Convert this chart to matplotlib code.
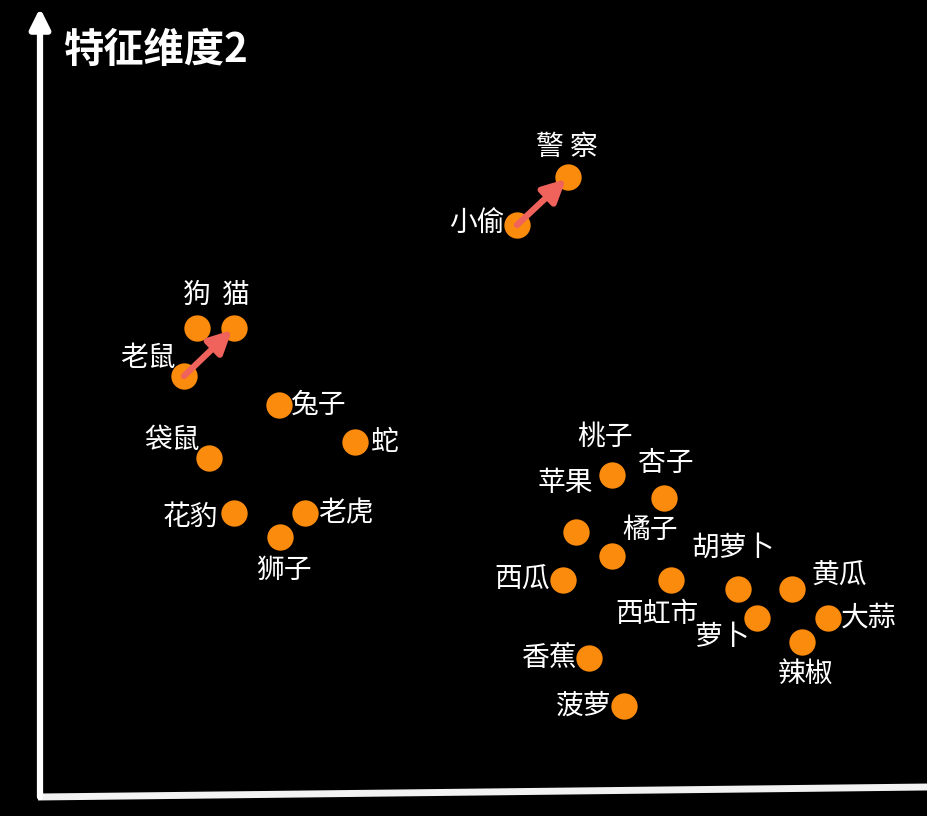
import matplotlib.pyplot as plt

plt.rcParams['font.family'] = ['Noto Sans CJK SC', 'DejaVu Sans']

# word embedding demo: (feature 1, feature 2)
names = ["狗", "猫", "老鼠", "兔子", "蛇", "袋鼠", "花豹", "老虎", "狮子",
         "小偷", "警 察",
         "桃子", "杏子", "苹果", "橘子", "西瓜", "西虹市", "胡萝卜", "黄瓜",
         "萝卜", "大蒜", "辣椒", "香蕉", "菠萝"]
feat1 = [197, 234, 184, 279, 355, 209, 234, 305, 280,
         517, 568,
         612, 664, 576, 612, 563, 671, 738, 792,
         757, 828, 802, 589, 624]
feat2 = [488, 488, 440, 411, 374, 358, 303, 303, 279,
         591, 639,
         341, 318, 284, 260, 236, 236, 227, 227,
         198, 198, 174, 158, 110]

# label offsets from each point
label_dx = [0, 1, -36, 39, 30, -37, -44, 41, 4,
            -40, -1,
            -7, 2, -11, 38, -41, -14, -5, 47,
            -35, 41, 4, -39, -40]
label_dy = [33, 33, 18, 0, 0, 18, -4, 0, -33,
            1, 30,
            38, 35, 49, 26, 0, -34, 41, 14,
            -19, 0, -32, 0, 0]

# analogy arrows: 老鼠 -> 猫, 小偷 -> 警察
pairs = [("老鼠", "猫"), ("小偷", "警 察")]

fig = plt.figure(figsize=(9.28, 8.16), dpi=100, facecolor="black")
ax = fig.add_axes([0, 0, 1, 1])
ax.set_facecolor("black")
ax.set_xlim(0, 928)
ax.set_ylim(0, 816)
ax.axis("off")

# axes drawn as arrows
ax.annotate("", xy=(40, 808), xytext=(40, 19),
            arrowprops=dict(arrowstyle="-|>", color="white", lw=4.5,
                            mutation_scale=30, shrinkA=0, shrinkB=0))
ax.plot([38, 928], [19, 29], color="#f2f2f2", lw=5, solid_capstyle="butt")

ax.scatter(feat1, feat2, s=360, color="#fb8b0c", zorder=2, linewidths=0)

for n, x, y, dx, dy in zip(names, feat1, feat2, label_dx, label_dy):
    ax.text(x + dx, y + dy, n, color="white", fontsize=20, fontweight="light",
            ha="center", va="center", zorder=4)

idx = {n: i for i, n in enumerate(names)}
for a, b in pairs:
    ia, ib = idx[a], idx[b]
    ax.annotate("", xy=(feat1[ib] - 2, feat2[ib] - 2), xytext=(feat1[ia], feat2[ia]),
                arrowprops=dict(arrowstyle="-|>", color="#f0625c", lw=4.5,
                                mutation_scale=34, shrinkA=0, shrinkB=0),
                zorder=3)

ax.text(63, 766, "特征维度2", color="white", fontsize=29, fontweight="bold",
        ha="left", va="center")

fig.savefig("out.png", dpi=100, facecolor="black")
